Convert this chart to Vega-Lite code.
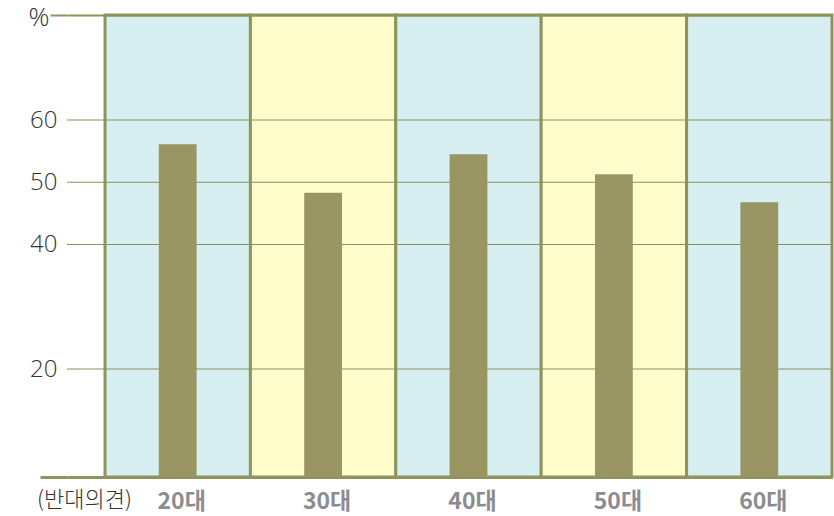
{
  "$schema": "https://vega.github.io/schema/vega-lite/v6.json",
  "width": 765,
  "height": 462,
  "autosize": {"type": "none"},
  "padding": {"left": 67, "top": 15, "right": 2, "bottom": 39},
  "background": "#ffffff",
  "config": {"view": {"stroke": null}},
  "datasets": {
    "ages": [
      {"age": "20대", "value": 56.1},
      {"age": "30대", "value": 48.3},
      {"age": "40대", "value": 54.5},
      {"age": "50대", "value": 51.3},
      {"age": "60대", "value": 46.8}
    ],
    "grid": [{"v": 20}, {"v": 40}, {"v": 50}, {"v": 60}]
  },
  "resolve": {"axis": {"x": "independent", "y": "independent"}},
  "layer": [
    {
      "data": {"name": "ages"},
      "mark": {"type": "rect", "stroke": "#8f945f", "strokeWidth": 3},
      "encoding": {
        "x": {
          "field": "age", "type": "nominal", "sort": null,
          "scale": {"paddingInner": 0, "paddingOuter": 0.1307, "align": 1},
          "axis": {"orient": "top", "labels": false, "ticks": false, "title": null, "domain": true, "domainColor": "#8f945f", "domainWidth": 2, "grid": false}
        },
        "fill": {
          "field": "age", "type": "nominal",
          "scale": {"domain": ["20대", "30대", "40대", "50대", "60대"], "range": ["#d8eff1", "#fffdcc", "#d8eff1", "#fffdcc", "#d8eff1"]},
          "legend": null
        }
      }
    },
    {
      "data": {"name": "grid"},
      "mark": {"type": "rule", "stroke": "#8b9060", "strokeWidth": 1},
      "encoding": {
        "y": {"field": "v", "type": "quantitative", "scale": {"domain": [2.65, 76.87], "nice": false, "zero": false}, "axis": null}
      }
    },
    {
      "data": {"name": "ages"},
      "mark": {"type": "bar", "color": "#9a9663", "width": {"band": 0.26}},
      "encoding": {
        "x": {
          "field": "age", "type": "nominal", "sort": null,
          "scale": {"paddingInner": 0, "paddingOuter": 0.1307, "align": 1},
          "axis": {
            "orient": "bottom", "title": "(반대의견)", "labelAngle": 0,
            "domain": true, "domainColor": "#8f945f", "domainWidth": 3,
            "ticks": false, "tickSize": 0, "grid": false,
            "labelFont": "Noto Sans CJK KR", "labelFontWeight": "bold", "labelFontSize": 23, "labelColor": "#8c8c90",
            "labelBaseline": "middle", "labelPadding": 24, "labelOffset": 4,
            "titleFont": "Noto Sans CJK KR", "titleFontWeight": 300, "titleFontSize": 22, "titleColor": "#333333",
            "titleX": 17, "titleY": 22, "titleAlign": "center", "titleBaseline": "middle", "titleAnchor": null
          }
        },
        "y": {
          "field": "value", "type": "quantitative",
          "scale": {"domain": [2.65, 76.87], "nice": false, "zero": false},
          "axis": {
            "orient": "left",
            "values": [2.65, 20, 40, 50, 60, 76.87],
            "labelExpr": "datum.value > 70 ? '%' : (datum.value < 10 ? '' : datum.label)",
            "title": null, "grid": false, "domain": false,
            "ticks": true,
            "tickColor": "#8f945f",
            "tickSize": {"condition": {"test": "datum.value < 10", "value": 27}, "value": 17},
            "tickWidth": {"condition": {"test": "datum.value < 10", "value": 3}, "value": 2},
            "tickOpacity": {"condition": {"test": "datum.value < 10 || datum.value > 70", "value": 1}, "value": 0},
            "labelPadding": {"condition": {"test": "datum.value > 70", "value": 1}, "value": -7},
            "labelOffset": {"condition": {"test": "datum.value > 70", "value": 2}, "value": 0},
            "labelFontSize": {"condition": {"test": "datum.value > 70", "value": 26}, "value": 24},
            "labelFont": "Open Sans", "labelColor": "#333333", "labelFontWeight": 300,
            "labelBaseline": "middle", "labelAlign": "right"
          }
        },
        "y2": {"datum": 2.65}
      }
    }
  ]
}
